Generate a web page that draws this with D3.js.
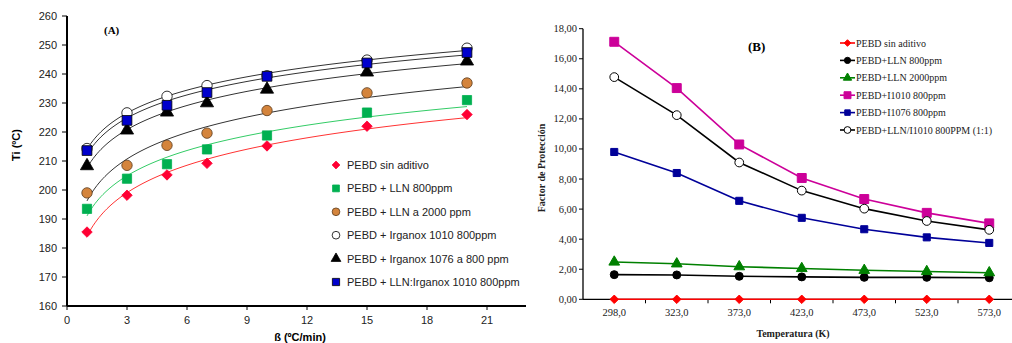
<!DOCTYPE html>
<html><head><meta charset="utf-8">
<script src="https://cdn.jsdelivr.net/npm/d3@7"></script>
<style>body{margin:0;background:#fff}svg{display:block}</style>
</head><body>
<script>
// ---- Chart A data ----
const betaValues = [1, 3, 5, 7, 10, 15, 20];
const seriesANames = ["PEBD sin aditivo","PEBD + LLN 800ppm","PEBD + LLN a 2000 ppm","PEBD + Irganox 1010 800ppm","PEBD + Irganox 1076 a 800 ppm","PEBD + LLN:Irganox 1010 800ppm"];
const tiSinAditivo   = [185.5, 198.2, 205.2, 209.2, 215.2, 222.0, 226.0];
const tiLLN800       = [193.5, 203.9, 208.9, 214.0, 218.8, 226.7, 231.0];
const tiLLN2000      = [199.0, 208.5, 215.4, 219.6, 227.4, 233.5, 236.9];
const tiIrg1010      = [214.3, 226.6, 232.3, 236.0, 239.4, 244.8, 248.9];
const tiIrg1076      = [208.3, 220.6, 226.8, 230.0, 234.7, 240.6, 244.4];
const tiLLNIrg1010   = [213.6, 224.0, 229.2, 233.6, 239.2, 243.8, 247.4];
const xTicksA = [0, 3, 6, 9, 12, 15, 18, 21];
const yTicksA = [160, 170, 180, 190, 200, 210, 220, 230, 240, 250, 260];

// ---- Chart B data ----
const temps = ["298,0","323,0","373,0","423,0","473,0","523,0","573,0"];
const seriesBNames = ["PEBD sin aditivo","PEBD+LLN 800ppm","PEBD+LLN 2000ppm","PEBD+I1010 800ppm","PEBD+I1076 800ppm","PEBD+LLN/I1010 800PPM (1:1)"];
const fpSinAditivo = [0, 0, 0, 0, 0, 0, 0];
const fpLLN800     = [1.64, 1.62, 1.53, 1.49, 1.46, 1.46, 1.43];
const fpLLN2000    = [2.48, 2.36, 2.17, 2.05, 1.93, 1.85, 1.77];
const fpI1010      = [17.13, 14.05, 10.30, 8.07, 6.67, 5.75, 5.05];
const fpI1076      = [9.80, 8.40, 6.55, 5.42, 4.66, 4.12, 3.75];
const fpLLNI1010   = [14.78, 12.25, 9.10, 7.23, 6.03, 5.21, 4.62];
const yTicksB = [0, 2, 4, 6, 8, 10, 12, 14, 16, 18];

const svg = d3.select("body").append("svg").attr("width", 1012).attr("height", 343);

// square diamond (rotated square)
const symbolSqDiamond = {
  draw(ctx, size) {
    const r = Math.sqrt(size / 2);
    ctx.moveTo(0, -r); ctx.lineTo(r, 0); ctx.lineTo(0, r); ctx.lineTo(-r, 0); ctx.closePath();
  }
};

// ================= Chart A =================
const xA = d3.scaleLinear().domain([0, 22.95]).range([67, 526]);
const yA = d3.scaleLinear().domain([160, 260]).range([306, 16]);
const gA = svg.append("g");

const styleA = [
  {data: tiSinAditivo, shape: symbolSqDiamond, size: 55, fill: "#FF0033", stroke: "#FF0033", trend: "#FF3333"},
  {data: tiLLN800, shape: d3.symbolSquare, size: 85, fill: "#00B050", stroke: "#00B050", trend: "#33CC66"},
  {data: tiLLN2000, shape: d3.symbolCircle, size: 85, fill: "#D4843C", stroke: "#5a3a1a", trend: "#333"},
  {data: tiIrg1010, shape: d3.symbolCircle, size: 85, fill: "#fff", stroke: "#000", trend: "#333"},
  {data: tiIrg1076, shape: d3.symbolTriangle, size: 75, fill: "#000", stroke: "#000", trend: "#333"},
  {data: tiLLNIrg1010, shape: d3.symbolSquare, size: 95, fill: "#0000CC", stroke: "#000", trend: "#333"}
];

// logarithmic trend lines (least-squares fit of the data)
function logFit(xs, ys) {
  const lx = xs.map(Math.log), n = xs.length;
  const mx = d3.mean(lx), my = d3.mean(ys);
  let sxy = 0, sxx = 0;
  for (let i = 0; i < n; i++) { sxy += (lx[i]-mx)*(ys[i]-my); sxx += (lx[i]-mx)**2; }
  const a = sxy / sxx; return {a, b: my - a*mx};
}
const line = d3.line().x(d => xA(d[0])).y(d => yA(d[1])).curve(d3.curveLinear);
styleA.forEach(s => {
  const f = logFit(betaValues, s.data);
  const pts = d3.range(1, 20.01, 0.1).map(x => [x, f.a*Math.log(x)+f.b]);
  gA.append("path").attr("d", line(pts)).attr("fill","none").attr("stroke", s.trend).attr("stroke-width", 1);
});

// axes
const axA = gA.append("g").attr("font-family","Arial, 'Liberation Sans', sans-serif").attr("font-size", 11);
axA.append("line").attr("x1", 67).attr("x2", 526).attr("y1", 306).attr("y2", 306).attr("stroke","#000").attr("stroke-width", 2);
axA.append("line").attr("x1", 67).attr("x2", 67).attr("y1", 16).attr("y2", 306).attr("stroke","#000").attr("stroke-width", 2);
yTicksA.forEach(v => {
  axA.append("line").attr("x1", 62).attr("x2", 67).attr("y1", yA(v)).attr("y2", yA(v)).attr("stroke","#000");
  axA.append("text").attr("x", 57).attr("y", yA(v)+4).attr("text-anchor","end").attr("fill","#222").text(v);
});
xTicksA.forEach(v => {
  axA.append("line").attr("x1", xA(v)).attr("x2", xA(v)).attr("y1", 306).attr("y2", 310).attr("stroke","#000");
  axA.append("text").attr("x", xA(v)).attr("y", 324).attr("text-anchor","middle").attr("fill","#222").text(v);
});
axA.append("text").attr("x", 300).attr("y", 341).attr("text-anchor","middle").attr("font-weight","bold").text("ß (ºC/min)");
axA.append("text").attr("transform","translate(20,145) rotate(-90)").attr("text-anchor","middle").attr("font-weight","bold").text("Ti (ºC)");
gA.append("text").attr("x", 104).attr("y", 34).attr("font-family","'Liberation Serif','Times New Roman',serif").attr("font-weight","bold").attr("font-size", 11).text("(A)");

// markers
styleA.forEach(s => {
  gA.append("g").selectAll("path").data(s.data).join("path")
    .attr("transform", (d,i) => `translate(${xA(betaValues[i])},${yA(d)})`)
    .attr("d", d3.symbol().type(s.shape).size(s.size))
    .attr("fill", s.fill).attr("stroke", s.stroke).attr("stroke-width", 0.8);
});

// legend A
const legA = gA.append("g").attr("font-family","Arial, 'Liberation Sans', sans-serif").attr("font-size", 11);
styleA.forEach((s, i) => {
  const y = 165 + i*23.4;
  legA.append("path").attr("transform", `translate(336,${y})`).attr("d", d3.symbol().type(s.shape).size(s.size*0.55))
    .attr("fill", s.fill).attr("stroke", s.stroke).attr("stroke-width", 0.8);
  legA.append("text").attr("x", 347).attr("y", y+4).attr("fill","#222").text(seriesANames[i]);
});

// ================= Chart B =================
const xB = d3.scaleBand().domain(temps).range([583, 1020.5]);
const yB = d3.scaleLinear().domain([0, 18]).range([299.3, 28.7]);
const gB = svg.append("g");
const serif = "'Liberation Serif','Times New Roman',serif";

const styleB = [
  {data: fpSinAditivo, shape: symbolSqDiamond, size: 36, fill: "#FF0000", stroke: "#FF0000", line: "#FF0000"},
  {data: fpLLN800, shape: d3.symbolCircle, size: 50, fill: "#000", stroke: "#000", line: "#000"},
  {data: fpLLN2000, shape: d3.symbolTriangle, size: 50, fill: "#008000", stroke: "#008000", line: "#008000"},
  {data: fpI1010, shape: d3.symbolSquare, size: 80, fill: "#CC0099", stroke: "#CC0099", line: "#CC0099"},
  {data: fpI1076, shape: d3.symbolSquare, size: 50, fill: "#000099", stroke: "#000099", line: "#000099"},
  {data: fpLLNI1010, shape: d3.symbolCircle, size: 60, fill: "#fff", stroke: "#000", line: "#000"}
];

const axB = gB.append("g").attr("font-family", serif).attr("font-size", 10.5).attr("fill","#222");
axB.append("line").attr("x1", 583).attr("x2", 1020).attr("y1", yB(0)).attr("y2", yB(0)).attr("stroke","#000").attr("stroke-width", 1.3);
axB.append("line").attr("x1", 583).attr("x2", 583).attr("y1", yB(18)).attr("y2", yB(0)).attr("stroke","#000").attr("stroke-width", 1.3);
yTicksB.forEach(v => {
  axB.append("line").attr("x1", 579).attr("x2", 583).attr("y1", yB(v)).attr("y2", yB(v)).attr("stroke","#000");
  axB.append("text").attr("x", 577).attr("y", yB(v)+3.5).attr("text-anchor","end").text(d3.format(".2f")(v).replace(".", ","));
});
temps.forEach((t, i) => {
  const x0 = xB(t);
  if (i > 0) axB.append("line").attr("x1", x0).attr("x2", x0).attr("y1", yB(0)).attr("y2", yB(0)+4).attr("stroke","#000");
  axB.append("text").attr("x", x0 + xB.bandwidth()/2).attr("y", 316).attr("text-anchor","middle").text(t);
});
axB.append("text").attr("x", 793).attr("y", 337).attr("text-anchor","middle").attr("font-weight","bold").attr("font-size", 10).text("Temperatura (K)");
axB.append("text").attr("transform","translate(545,168) rotate(-90)").attr("text-anchor","middle").attr("font-weight","bold").attr("font-size", 10).text("Factor de Protección");
gB.append("text").attr("x", 748).attr("y", 51).attr("font-family", serif).attr("font-weight","bold").attr("font-size", 13).text("(B)");

const lineB = d3.line().x((d,i) => xB(temps[i]) + xB.bandwidth()/2).y(d => yB(d));
styleB.forEach(s => {
  gB.append("path").attr("d", lineB(s.data)).attr("fill","none").attr("stroke", s.line).attr("stroke-width", 1.6);
});
styleB.forEach(s => {
  gB.append("g").selectAll("path").data(s.data).join("path")
    .attr("transform", (d,i) => `translate(${xB(temps[i]) + xB.bandwidth()/2},${yB(d)})`)
    .attr("d", d3.symbol().type(s.shape).size(s.size))
    .attr("fill", s.fill).attr("stroke", s.stroke).attr("stroke-width", 1);
});

// legend B
const legB = gB.append("g").attr("font-family", serif).attr("font-size", 10).attr("fill","#222");
styleB.forEach((s, i) => {
  const y = 43 + i*17.4;
  legB.append("line").attr("x1", 840).attr("x2", 855).attr("y1", y).attr("y2", y).attr("stroke", s.line).attr("stroke-width", 1.6);
  legB.append("path").attr("transform", `translate(847.5,${y})`).attr("d", d3.symbol().type(s.shape).size(s.size*0.6))
    .attr("fill", s.fill).attr("stroke", s.stroke).attr("stroke-width", 1);
  legB.append("text").attr("x", 856).attr("y", y+3.5).text(seriesBNames[i]);
});
</script>
</body></html>
